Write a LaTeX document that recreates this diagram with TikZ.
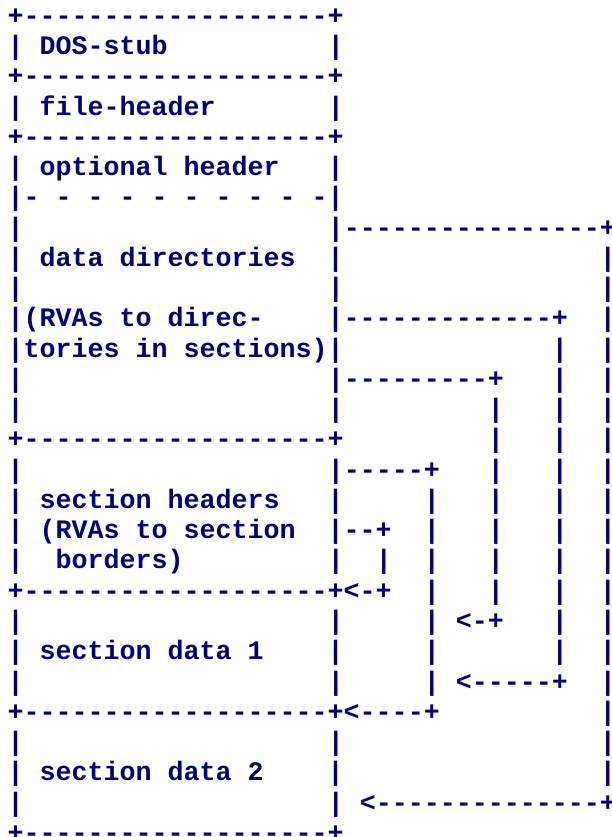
\documentclass[tikz,border=0pt]{standalone}
\usepackage{fontspec}
\newfontfamily\asciifont{Liberation Mono}
\definecolor{asciiblue}{RGB}{0,0,128}

\begin{document}
\begin{tikzpicture}[x=16pt,y=-30.26pt]
	\tikzstyle{ascii}=[font=\asciifont\bfseries\fontsize{26.67pt}{30pt}\selectfont,text=asciiblue,inner sep=0pt,anchor=base west,execute at begin node=\obeyspaces\frenchspacing]
	\useasboundingbox (-7.5pt,24.3pt) rectangle (604.5pt,-812.7pt);

	% headers
	\node[ascii] (ln1)	at (0,0)	{+-------------------+};
	\node[ascii] (ln2)	at (0,1)	{| DOS-stub          |};
	\node[ascii] (ln3)	at (0,2)	{+-------------------+};
	\node[ascii] (ln4)	at (0,3)	{| file-header       |};
	\node[ascii] (ln5)	at (0,4)	{+-------------------+};
	\node[ascii] (ln6)	at (0,5)	{| optional header   |};
	\node[ascii] (ln7)	at (0,6)	{|- - - - - - - - - -|};

	% data directories
	\node[ascii] (ln8)	at (0,7)	{|                   |----------------+};
	\node[ascii] (ln9)	at (0,8)	{| data directories  |                |};
	\node[ascii] (ln10)	at (0,9)	{|                   |                |};
	\node[ascii] (ln11)	at (0,10)	{|(RVAs to direc-    |-------------+  |};
	\node[ascii] (ln12)	at (0,11)	{|tories in sections)|             |  |};
	\node[ascii] (ln13)	at (0,12)	{|                   |---------+   |  |};
	\node[ascii] (ln14)	at (0,13)	{|                   |         |   |  |};
	\node[ascii] (ln15)	at (0,14)	{+-------------------+         |   |  |};

	% section headers
	\node[ascii] (ln16)	at (0,15)	{|                   |-----+   |   |  |};
	\node[ascii] (ln17)	at (0,16)	{| section headers   |     |   |   |  |};
	\node[ascii] (ln18)	at (0,17)	{| (RVAs to section  |--+  |   |   |  |};
	\node[ascii] (ln19)	at (0,18)	{|  borders)         |  |  |   |   |  |};
	\node[ascii] (ln20)	at (0,19)	{+-------------------+<-+  |   |   |  |};

	% section data
	\node[ascii] (ln21)	at (0,20)	{|                   |     | <-+   |  |};
	\node[ascii] (ln22)	at (0,21)	{| section data 1    |     |       |  |};
	\node[ascii] (ln23)	at (0,22)	{|                   |     | <-----+  |};
	\node[ascii] (ln24)	at (0,23)	{+-------------------+<----+          |};
	\node[ascii] (ln25)	at (0,24)	{|                   |                |};
	\node[ascii] (ln26)	at (0,25)	{| section data 2    |                |};
	\node[ascii] (ln27)	at (0,26)	{|                   | <--------------+};
	\node[ascii] (ln28)	at (0,27)	{+-------------------+};
\end{tikzpicture}
\end{document}
